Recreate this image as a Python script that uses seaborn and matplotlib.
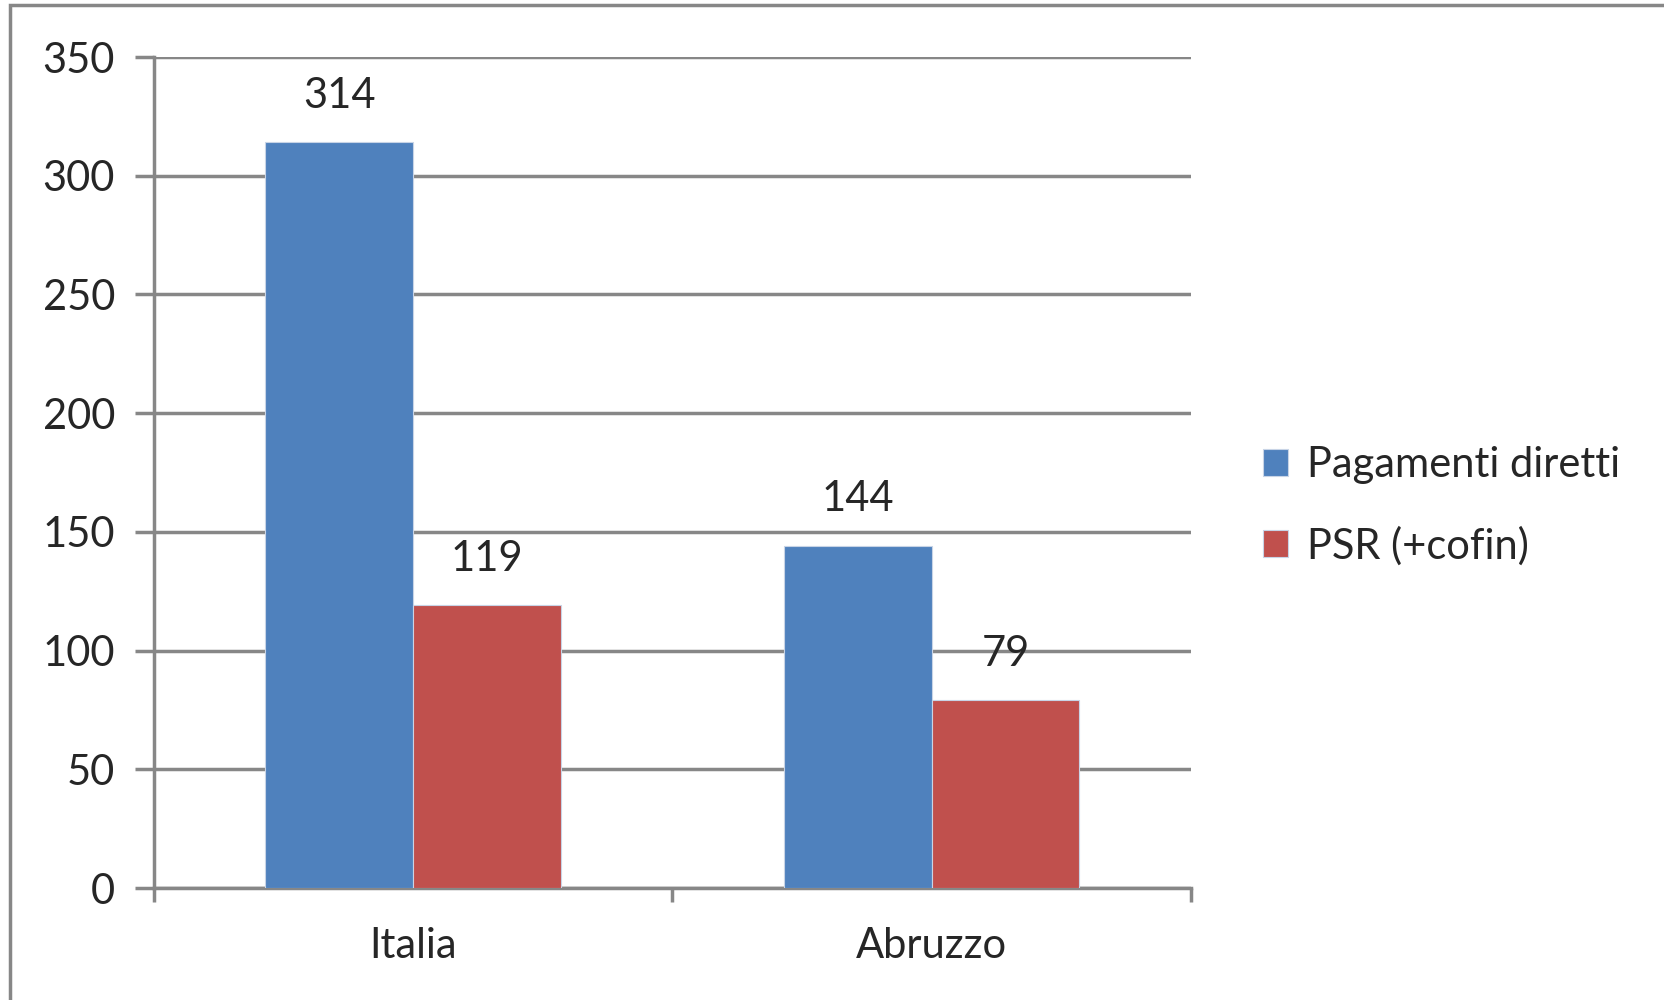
import pandas as pd
import seaborn as sns
import matplotlib.pyplot as plt
from matplotlib.patches import Rectangle

# Chart data
regions = ["Italia", "Abruzzo"]
series = ["Pagamenti diretti", "PSR (+cofin)"]
pagamenti_diretti = [314, 144]
psr_cofin = [119, 79]
y_ticks = [0, 50, 100, 150, 200, 250, 300, 350]

df = pd.DataFrame({
    "regione": regions * 2,
    "serie": [series[0]] * len(regions) + [series[1]] * len(regions),
    "valore": pagamenti_diretti + psr_cofin,
})

sns.set_theme(style="white")
plt.rcParams["font.family"] = ["Lato", "DejaVu Sans"]

GRAY = "#878787"
FS = 30
fig = plt.figure(figsize=(16.64, 10), dpi=100)
ax = fig.add_axes([0.0925, 0.112, 0.6232, 0.831])

sns.barplot(data=df, x="regione", y="valore", hue="serie", order=regions,
            hue_order=series, palette=["#4F81BD", "#C0504D"], width=0.57,
            saturation=1, ax=ax, zorder=3, linewidth=0.8, edgecolor="#c8d4e6")

# value labels above the bars
for container in ax.containers:
    ax.bar_label(container, fmt="%d", padding=20, fontsize=FS)

ax.set_ylim(0, 350)
ax.set_xlim(-0.5, 1.5)
ax.set_yticks(y_ticks)
ax.set_xlabel("")
ax.set_ylabel("")
ax.yaxis.grid(True, color=GRAY, linewidth=2.5, zorder=0)
ax.set_axisbelow(True)

for side in ["top", "right"]:
    ax.spines[side].set_visible(False)
for side in ["left", "bottom"]:
    ax.spines[side].set_color(GRAY)
    ax.spines[side].set_linewidth(2.5)

# category separators as tick marks on the x axis
ax.set_xticks([-0.5, 0.5, 1.5], minor=True)
ax.tick_params(axis="x", which="minor", length=10, width=2.5, color=GRAY,
               direction="out", bottom=True)
ax.tick_params(axis="x", which="major", length=0, labelsize=FS, pad=28)
ax.tick_params(axis="y", length=14, width=2.5, color=GRAY, direction="out",
               left=True, labelsize=FS, pad=14)

leg = ax.legend(loc="center left", bbox_to_anchor=(1.033, 0.46), frameon=False,
                fontsize=FS, handlelength=0.62, handleheight=0.62,
                handletextpad=0.45, labelspacing=1.0)

# outer chart frame
fig.add_artist(Rectangle((10 / 1664, -0.1), 1.2, 1.1 - 5 / 1000,
                         transform=fig.transFigure, fill=False,
                         edgecolor=GRAY, linewidth=2.5))

fig.savefig("out.png", dpi=100)
